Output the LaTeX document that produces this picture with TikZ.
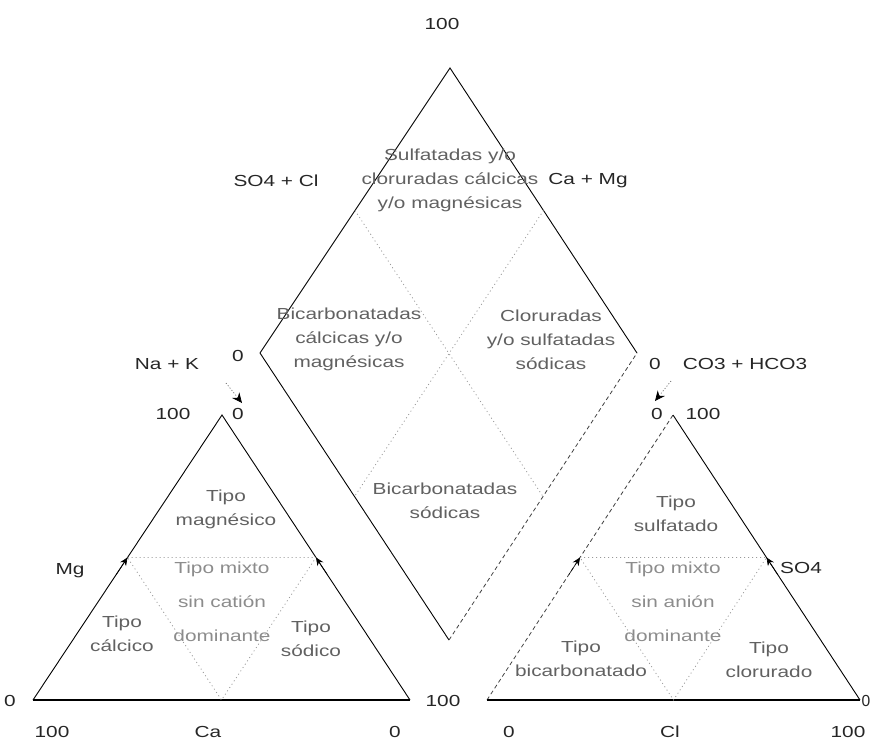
\documentclass[tikz,border=0pt]{standalone}
\usepackage{fontspec}
\setmainfont{Liberation Sans}
\usetikzlibrary{arrows.meta,calc}
\begin{document}
\begin{tikzpicture}[x=1pt,y=-1pt,
  lbl/.style={font=\fontsize{16}{24}\selectfont, xscale=1.3, inner sep=0pt, text=black!85, align=center},
  reg/.style={lbl, text=black!62},
  mid/.style={lbl, text=black!45, font=\fontsize{16}{34}\selectfont},
  edge/.style={line width=0.9pt, black},
  faint/.style={line width=0.8pt, black!75, dash pattern=on 4pt off 3pt},
  base/.style={line width=1.8pt, black},
  guide/.style={line width=0.8pt, black!40, dash pattern=on 1pt off 3pt},
  tick/.style={-{Stealth[length=8pt,width=7pt]}, line width=0.6pt, black},
  pointer/.style={-{Stealth[length=10pt,width=9pt,color=black]}, line width=0.7pt, black!60, dash pattern=on 1pt off 2pt}
]
\useasboundingbox (0,0) rectangle (872,740);
% vertices
\coordinate (dT) at (450,68);
\coordinate (dL) at (260,353);
\coordinate (dR) at (637,353);
\coordinate (dB) at (449,640);
\coordinate (lA) at (222,415);
\coordinate (lB) at (33,700);
\coordinate (lC) at (410,700);
\coordinate (rA) at (673,415);
\coordinate (rB) at (487,700);
\coordinate (rC) at (860,700);
% diamond
\draw[edge] (dL) -- (dT) -- (dR);
\draw[edge] (dL) -- (dB);
\draw[faint] (dB) -- (dR);
\draw[guide] ($(dL)!0.5!(dT)$) -- ($(dB)!0.5!(dR)$);
\draw[guide] ($(dT)!0.5!(dR)$) -- ($(dL)!0.5!(dB)$);
% left triangle
\draw[edge] (lB) -- (lA) -- (lC);
\draw[base] (lB) -- (lC);
\draw[guide] ($(lA)!0.5!(lB)$) -- ($(lA)!0.5!(lC)$) -- ($(lB)!0.5!(lC)$) -- cycle;
\draw[tick] ($(lB)!0.44!(lA)$) -- ($(lB)!0.5!(lA)$);
\draw[tick] ($(lC)!0.44!(lA)$) -- ($(lC)!0.5!(lA)$);
% right triangle
\draw[faint] (rB) -- (rA);
\draw[edge] (rA) -- (rC);
\draw[base] (rB) -- (rC);
\draw[guide] ($(rA)!0.5!(rB)$) -- ($(rA)!0.5!(rC)$) -- ($(rB)!0.5!(rC)$) -- cycle;
\draw[tick] ($(rB)!0.44!(rA)$) -- ($(rB)!0.5!(rA)$);
\draw[tick] ($(rC)!0.44!(rA)$) -- ($(rC)!0.5!(rA)$);
% pointers
\coordinate (p1s) at (226,383);
\coordinate (p1e) at (242,403);
\coordinate (p2s) at (671,381);
\coordinate (p2e) at (655,401);
\draw[pointer] (p1s) -- (p1e);
\draw[pointer] (p2s) -- (p2e);
% axis labels
\node[lbl] (t100) at (442,24) {100};
\node[lbl] (so4cl) at (276,181) {SO4 + Cl};
\node[lbl] (camg) at (588,181) {Ca + Mg};
\node[lbl] (dl0) at (238,356) {0};
\node[lbl] (nak) at (167,364) {Na + K};
\node[lbl] (dr0) at (655,364) {0};
\node[lbl] (co3) at (745,364) {CO3 + HCO3};
\node[lbl] (la100) at (173,414) {100};
\node[lbl] (la0) at (238,414) {0};
\node[lbl] (ra0) at (657,414) {0};
\node[lbl] (ra100) at (703,414) {100};
\node[lbl] (mg) at (70,571) {Mg};
\node[lbl] (so4) at (801,568) {SO4};
\node[lbl] (lb0) at (10,701) {0};
\node[lbl] (lc100) at (443,701) {100};
\node[lbl, xscale=0.75] (rc0) at (866,701) {0};
\node[lbl] (ca100) at (52,732) {100};
\node[lbl] (ca) at (208,732) {Ca};
\node[lbl] (ca0) at (395,732) {0};
\node[lbl] (cl0) at (509,732) {0};
\node[lbl] (cl) at (670,732) {Cl};
\node[lbl] (cl100) at (848,732) {100};
% diamond regions
\node[reg] (dtop) at (450,180) {Sulfatadas y/o\\cloruradas cálcicas\\y/o magnésicas};
\node[reg] (dleft) at (349,339) {Bicarbonatadas\\cálcicas y/o\\magnésicas};
\node[reg] (dright) at (551,340) {Cloruradas\\y/o sulfatadas\\sódicas};
\node[reg] (dbot) at (445,501) {Bicarbonatadas\\sódicas};
% left triangle regions
\node[reg] (tmg) at (226,509) {Tipo\\magnésico};
\node[reg] (tca) at (122,634) {Tipo\\cálcico};
\node[reg] (tna) at (311,639) {Tipo\\sódico};
\node[mid] (tmixl) at (222,602) {Tipo mixto\\sin catión\\dominante};
% right triangle regions
\node[reg] (tso4) at (676,514) {Tipo\\sulfatado};
\node[reg] (thco3) at (581,659) {Tipo\\bicarbonatado};
\node[reg] (tcl) at (769,660) {Tipo\\clorurado};
\node[mid] (tmixr) at (673,602) {Tipo mixto\\sin anión\\dominante};
\end{tikzpicture}
\end{document}
